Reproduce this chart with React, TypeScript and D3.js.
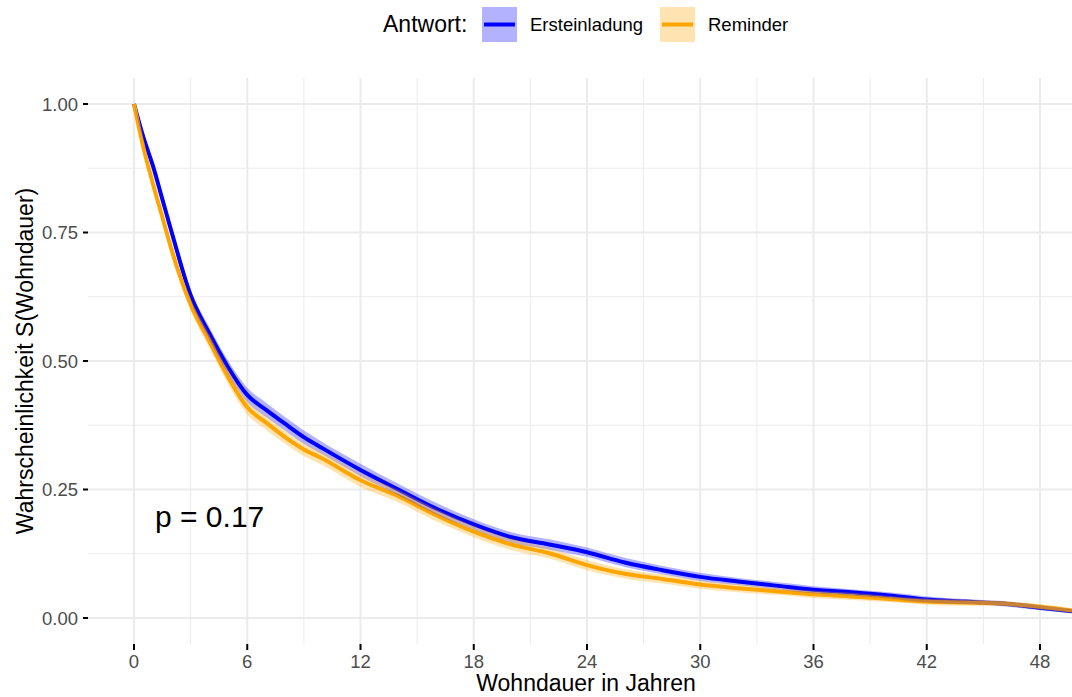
import * as d3 from "d3";

// Kaplan-Meier estimates (years, survival)
const times = [0, 0.5, 1, 1.5, 2, 3, 4, 5, 6, 7, 8, 9, 10, 12, 14, 16, 18, 20, 22, 24, 26, 28, 30, 32, 34, 36, 38, 40, 42, 44, 46, 48, 50];
const survErst = [1.0, 0.935, 0.88, 0.815, 0.75, 0.628, 0.553, 0.487, 0.434, 0.405, 0.378, 0.352, 0.33, 0.288, 0.25, 0.213, 0.182, 0.157, 0.143, 0.128, 0.108, 0.093, 0.08, 0.071, 0.063, 0.055, 0.05, 0.044, 0.036, 0.032, 0.028, 0.02, 0.012];
const survRem = [1.0, 0.915, 0.845, 0.78, 0.715, 0.61, 0.538, 0.468, 0.41, 0.38, 0.352, 0.328, 0.31, 0.268, 0.237, 0.2, 0.168, 0.143, 0.126, 0.103, 0.086, 0.076, 0.065, 0.058, 0.052, 0.046, 0.042, 0.037, 0.032, 0.03, 0.028, 0.022, 0.013];
// half width of the confidence band
const ciErst = [0, 0.006, 0.008, 0.009, 0.01, 0.011, 0.012, 0.013, 0.014, 0.014, 0.013, 0.013, 0.012, 0.012, 0.011, 0.011, 0.01, 0.01, 0.01, 0.009, 0.009, 0.008, 0.008, 0.007, 0.007, 0.007, 0.006, 0.006, 0.006, 0.005, 0.005, 0.005, 0.004];
const ciRem = [0, 0.007, 0.009, 0.01, 0.011, 0.012, 0.013, 0.014, 0.014, 0.014, 0.013, 0.013, 0.013, 0.013, 0.012, 0.012, 0.011, 0.011, 0.01, 0.01, 0.009, 0.009, 0.008, 0.008, 0.007, 0.007, 0.007, 0.006, 0.006, 0.006, 0.005, 0.005, 0.004];

const xTicks = [0, 6, 12, 18, 24, 30, 36, 42, 48];
const xMinor = [3, 9, 15, 21, 27, 33, 39, 45, 51];
const yTicks = [0, 0.25, 0.5, 0.75, 1];
const yMinor = [0.125, 0.375, 0.625, 0.875];

const series = [
  { name: "Ersteinladung", color: "#0000ff", fill: "#b2b2ff", surv: survErst, ci: ciErst },
  { name: "Reminder", color: "#ffa500", fill: "#ffe4b2", surv: survRem, ci: ciRem },
];

const W = 1072;
const H = 697;
const panel = { left: 88, top: 78, right: 1072, bottom: 644 };
const FONT = "'Liberation Sans', Arial, Helvetica, sans-serif";

export default function App() {
  const x = d3.scaleLinear().domain([0, 48]).range([134, 1040]);
  const y = d3.scaleLinear().domain([0, 1]).range([618, 104]);

  const line = (s: number[]) =>
    d3
      .line<number>()
      .curve(d3.curveMonotoneX)
      .x((_, i) => x(times[i]))
      .y((d) => y(d))(s) || "";

  const band = (s: number[], ci: number[]) =>
    d3
      .area<number>()
      .curve(d3.curveMonotoneX)
      .x((_, i) => x(times[i]))
      .y0((d, i) => y(Math.max(0, d - ci[i])))
      .y1((d, i) => y(Math.min(1, d + ci[i])))(s) || "";

  return (
    <svg
      width={W}
      height={H}
      style={{ position: "absolute", left: 0, top: 0, background: "#fff" }}
      fontFamily={FONT}
    >
      <defs>
        <clipPath id="panel-clip">
          <rect x={panel.left} y={panel.top} width={panel.right - panel.left} height={panel.bottom - panel.top} />
        </clipPath>
      </defs>

      {/* grid */}
      <g>
        {yMinor.map((v) => (
          <line key={"ym" + v} x1={panel.left} x2={panel.right} y1={y(v)} y2={y(v)} stroke="#ebebeb" strokeWidth={1} />
        ))}
        {xMinor.map((v) => (
          <line key={"xm" + v} x1={x(v)} x2={x(v)} y1={panel.top} y2={panel.bottom} stroke="#ebebeb" strokeWidth={1} />
        ))}
        {yTicks.map((v) => (
          <line key={"y" + v} x1={panel.left} x2={panel.right} y1={y(v)} y2={y(v)} stroke="#ebebeb" strokeWidth={2} />
        ))}
        {xTicks.map((v) => (
          <line key={"x" + v} x1={x(v)} x2={x(v)} y1={panel.top} y2={panel.bottom} stroke="#ebebeb" strokeWidth={2} />
        ))}
      </g>

      {/* curves: lines first, then the translucent bands on top */}
      <g clipPath="url(#panel-clip)">
        {series.map((s) => (
          <path key={"l" + s.name} d={line(s.surv)} fill="none" stroke={s.color} strokeWidth={4} strokeLinejoin="round" />
        ))}
        {series.map((s) => (
          <path key={"b" + s.name} d={band(s.surv, s.ci)} fill={s.color} fillOpacity={0.3} stroke="none" />
        ))}
      </g>

      <text x={155} y={527} fontSize={30} fill="#000">
        p = 0.17
      </text>

      {/* y axis */}
      <g>
        {yTicks.map((v) => (
          <g key={"yt" + v}>
            <line x1={83} x2={88} y1={y(v)} y2={y(v)} stroke="#000" strokeWidth={2} />
            <text x={78} y={y(v) + 6.5} textAnchor="end" fontSize={18.5} fill="#4d4d4d">
              {d3.format(".2f")(v)}
            </text>
          </g>
        ))}
        <text
          transform={`translate(33,${(panel.top + panel.bottom) / 2}) rotate(-90)`}
          textAnchor="middle"
          fontSize={23}
          fill="#000"
        >
          Wahrscheinlichkeit S(Wohndauer)
        </text>
      </g>

      {/* x axis */}
      <g>
        {xTicks.map((v) => (
          <g key={"xt" + v}>
            <line x1={x(v)} x2={x(v)} y1={644} y2={650} stroke="#000" strokeWidth={2} />
            <text x={x(v)} y={668} textAnchor="middle" fontSize={18.5} fill="#4d4d4d">
              {v}
            </text>
          </g>
        ))}
        <text x={586} y={691} textAnchor="middle" fontSize={23} fill="#000">
          Wohndauer in Jahren
        </text>
      </g>

      {/* legend */}
      <g>
        <text x={383} y={32} fontSize={23} fill="#000">
          Antwort:
        </text>
        {series.map((s, i) => {
          const kx = i === 0 ? 482 : 660;
          return (
            <g key={"lg" + s.name}>
              <rect x={kx} y={7} width={35} height={35} fill={s.fill} />
              <line x1={kx + 2} x2={kx + 33} y1={24.5} y2={24.5} stroke={s.color} strokeWidth={4} />
              <text x={kx + 48} y={31} fontSize={18.5} fill="#000">
                {s.name}
              </text>
            </g>
          );
        })}
      </g>
    </svg>
  );
}
